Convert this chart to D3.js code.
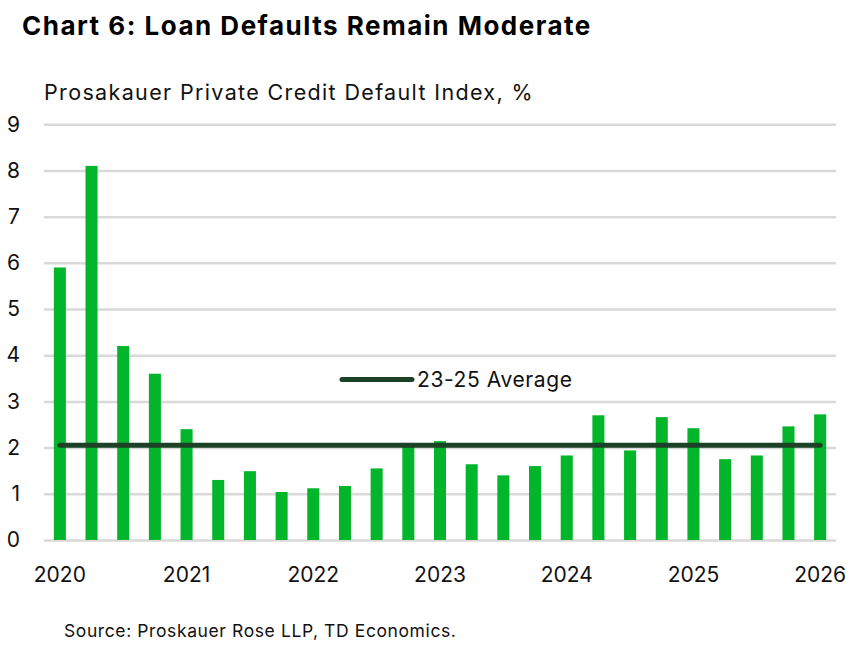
<!DOCTYPE html>
<html>
<head>
<meta charset="utf-8">
<script src="https://cdn.jsdelivr.net/npm/d3@7"></script>
<style>
  body { margin: 0; background: #fff; }
  svg { display: block; font-family: Inter, 'Noto Sans', sans-serif; }
  .tick text { fill: #111; }
</style>
</head>
<body>
<svg id="chart" width="868" height="648"></svg>
<script>
// Quarterly observations, 2020Q1 through 2026Q1
const quarters = [
  '2020Q1', '2020Q2', '2020Q3', '2020Q4',
  '2021Q1', '2021Q2', '2021Q3', '2021Q4',
  '2022Q1', '2022Q2', '2022Q3', '2022Q4',
  '2023Q1', '2023Q2', '2023Q3', '2023Q4',
  '2024Q1', '2024Q2', '2024Q3', '2024Q4',
  '2025Q1', '2025Q2', '2025Q3', '2025Q4',
  '2026Q1'
];
const defaultRate = [
  5.9, 8.1, 4.2, 3.6,
  2.4, 1.3, 1.49, 1.04,
  1.12, 1.17, 1.55, 2.05,
  2.14, 1.64, 1.4, 1.6,
  1.83, 2.7, 1.94, 2.66,
  2.42, 1.75, 1.83, 2.46,
  2.72
];
const average2325 = 2.05;
const yearTicks = ['2020Q1', '2021Q1', '2022Q1', '2023Q1', '2024Q1', '2025Q1', '2026Q1'];
const yearLabels = ['2020', '2021', '2022', '2023', '2024', '2025', '2026'];
const yTicks = [0, 1, 2, 3, 4, 5, 6, 7, 8, 9];

const svg = d3.select('#chart');
const plot = { left: 44, right: 836, top: 124.3, bottom: 540 };

const data = quarters.map((q, i) => ({ key: q, value: defaultRate[i] }));

// Titles
svg.append('text')
    .attr('x', 22)
    .attr('y', 35)
    .style('font-size', '26px')
    .style('font-weight', 'bold')
    .style('letter-spacing', '1.5px')
    .attr('fill', '#000')
    .text('Chart 6: Loan Defaults Remain Moderate');

svg.append('text')
    .attr('x', 44)
    .attr('y', 99.5)
    .style('font-size', '21.5px')
    .style('letter-spacing', '1.35px')
    .attr('fill', '#111')
    .text('Prosakauer Private Credit Default Index, %');

// Scales
const xScale = d3.scaleBand()
    .domain(quarters)
    .range([plot.left, plot.right])
    .paddingInner(0.62)
    .paddingOuter(0.31);

const yScale = d3.scaleLinear()
    .domain([0, 9])
    .range([plot.bottom, plot.top]);

// Gridlines + y labels
const yAxisG = svg.append('g')
    .attr('transform', `translate(${plot.left},0)`)
    .call(d3.axisLeft(yScale)
      .tickValues(yTicks)
      .tickSize(-(plot.right - plot.left))
      .tickPadding(24));
yAxisG.select('.domain').remove();
yAxisG.selectAll('.tick line')
    .attr('stroke', '#d9d9d9')
    .attr('stroke-width', 2.5);
yAxisG.selectAll('.tick text')
    .style('font-size', '21px')
    .style('font-family', 'Inter, sans-serif');

// Year labels under every fourth bar
const yearOf = d3.scaleOrdinal().domain(yearTicks).range(yearLabels);
const xAxisG = svg.append('g')
    .attr('transform', `translate(0,${plot.bottom})`)
    .call(d3.axisBottom(xScale)
      .tickValues(yearTicks)
      .tickFormat(yearOf)
      .tickSize(0)
      .tickPadding(27));
xAxisG.select('.domain').remove();
xAxisG.selectAll('.tick text')
    .style('font-size', '21px')
    .style('font-family', 'Inter, sans-serif');

// Bars
svg.append('g').selectAll('rect')
    .data(data)
  .join('rect')
    .attr('x', d => xScale(d.key))
    .attr('y', d => yScale(d.value))
    .attr('width', xScale.bandwidth())
    .attr('height', d => yScale(0) - yScale(d.value))
    .attr('fill', '#02b52a');

// 2023-25 average line, from first to last bar centre
const lineColor = '#1b4226';
svg.append('line')
    .attr('x1', xScale(quarters[0]) + xScale.bandwidth() / 2)
    .attr('x2', xScale(quarters[quarters.length - 1]) + xScale.bandwidth() / 2)
    .attr('y1', yScale(average2325))
    .attr('y2', yScale(average2325))
    .attr('stroke', lineColor)
    .attr('stroke-width', 5)
    .attr('stroke-linecap', 'round');

// Legend
const legend = svg.append('g').attr('transform', 'translate(342,379.5)');
legend.append('line')
    .attr('x1', 0)
    .attr('x2', 70)
    .attr('stroke', lineColor)
    .attr('stroke-width', 5)
    .attr('stroke-linecap', 'round');
legend.append('text')
    .attr('x', 75)
    .attr('dy', '0.36em')
    .style('font-size', '21px')
    .style('letter-spacing', '0.6px')
    .attr('fill', '#111')
    .text('23-25 Average');

// Source
svg.append('text')
    .attr('x', 64)
    .attr('y', 637)
    .style('font-size', '17.5px')
    .style('letter-spacing', '0.6px')
    .attr('fill', '#111')
    .text('Source: Proskauer Rose LLP, TD Economics.');
</script>
</body>
</html>
